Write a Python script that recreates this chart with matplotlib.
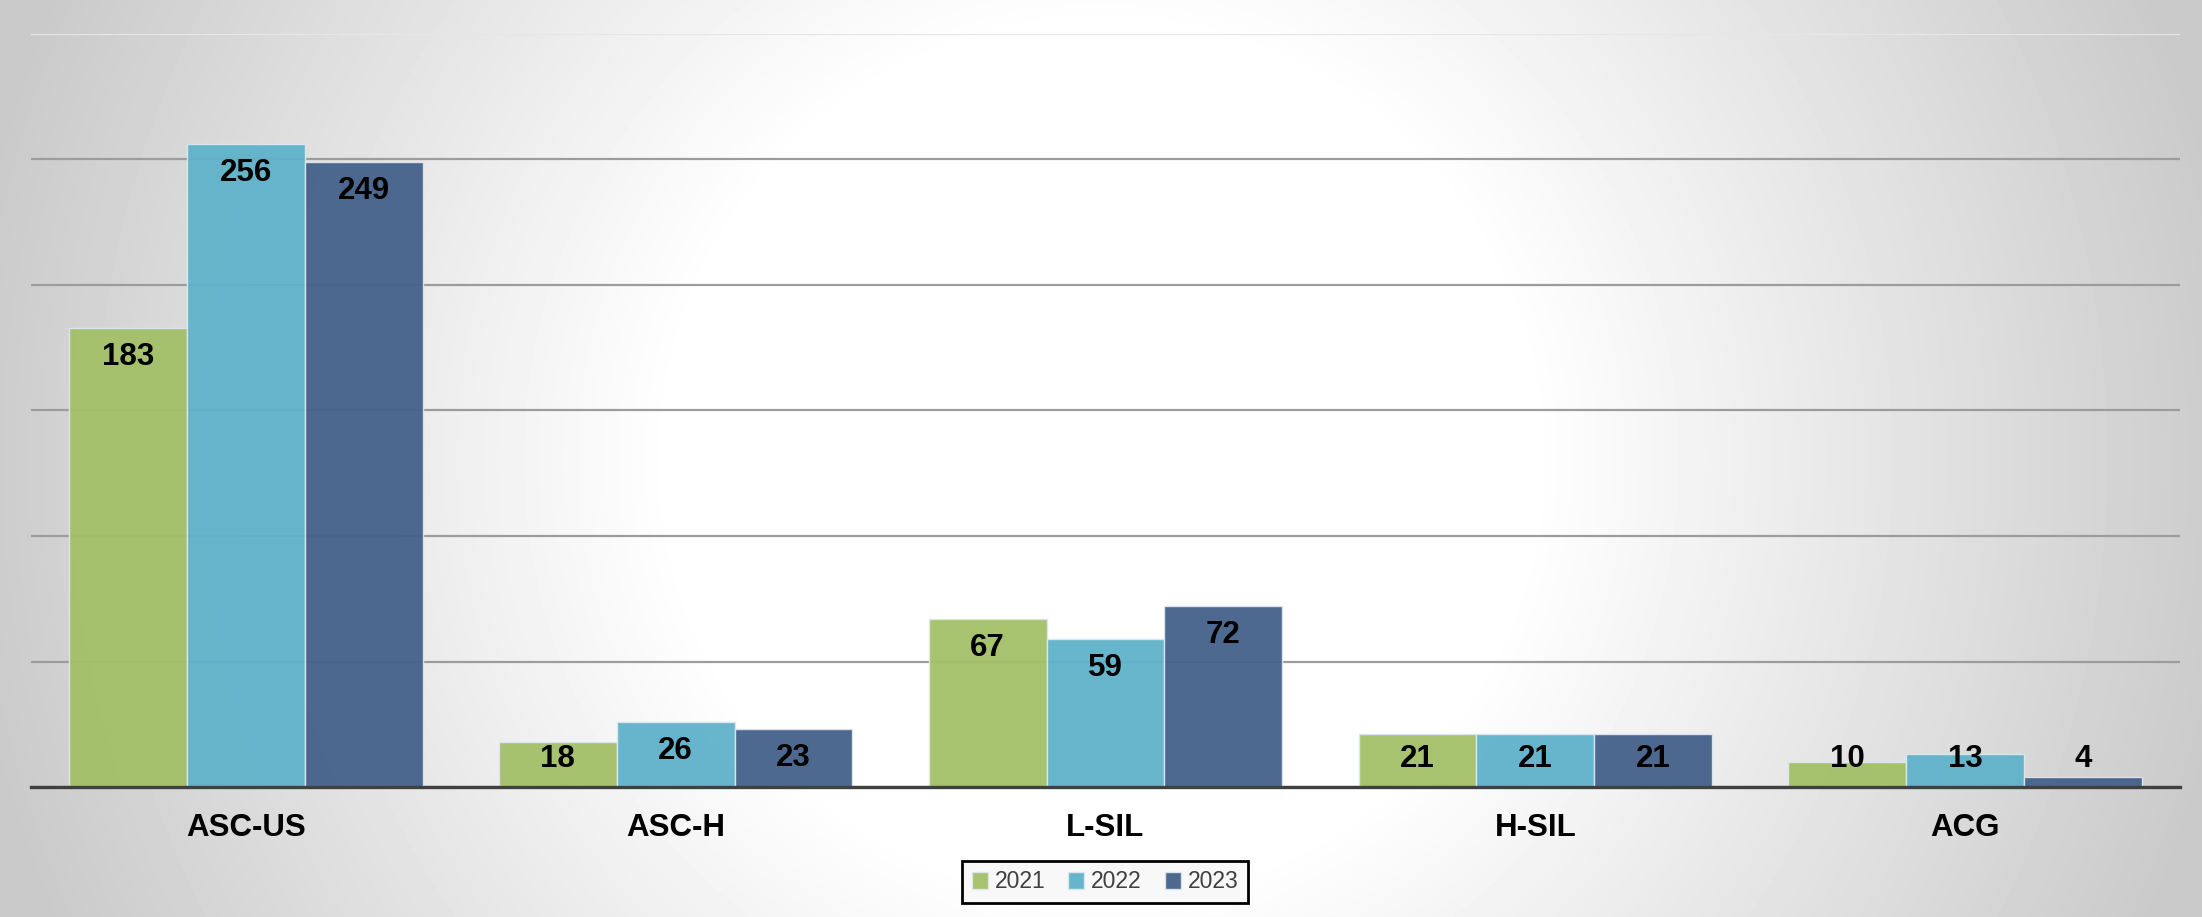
import numpy as np
import matplotlib
matplotlib.use("Agg")
import matplotlib.pyplot as plt

# data
categories = ["ASC-US", "ASC-H", "L-SIL", "H-SIL", "ACG"]
years = ["2021", "2022", "2023"]
vals_2021 = [183, 18, 67, 21, 10]
vals_2022 = [256, 26, 59, 21, 13]
vals_2023 = [249, 23, 72, 21, 4]
colors = ["#A3C068", "#5FB2CA", "#44618A"]

plt.rcParams["font.family"] = ["Liberation Sans", "DejaVu Sans"]

W, H = 2202, 917
fig = plt.figure(figsize=(W / 100, H / 100), dpi=100)

# radial grey -> white background
bg = fig.add_axes([0, 0, 1, 1], zorder=-10)
yy, xx = np.mgrid[0:H, 0:W]
d = np.sqrt((xx - W / 2) ** 2 + (yy - H / 2) ** 2)
r0, R = 430, 1150
v = 1 - 0.21 * np.clip((d - r0) / (R - r0), 0, 1)
bg.imshow(v, cmap="gray", vmin=0, vmax=1, aspect="auto", extent=[0, 1, 0, 1])
bg.axis("off")

ax = fig.add_axes([31 / W, 1 - 787 / H, (2180 - 31) / W, (787 - 34) / H])
ax.set_facecolor("none")

x = np.arange(len(categories))
width = 0.274
series = [vals_2021, vals_2022, vals_2023]
for i, (vals, col, yr) in enumerate(zip(series, colors, years)):
    pos = x + (i - 1) * width
    ax.bar(pos, vals, width, color=col, edgecolor="#dde6ee", linewidth=1.0,
           alpha=0.95, label=yr, zorder=3)
    for px, val in zip(pos, vals):
        yc = max(val - 11.5, 11.0)
        ax.text(px, yc, str(val), ha="center", va="center", fontsize=22.5,
                fontweight="bold", color="black", zorder=5)

ax.set_xlim(-0.5, len(categories) - 0.5)
ax.set_ylim(0, 300)
ax.set_yticks(np.arange(0, 301, 50))
ax.yaxis.grid(True, color="#9c9c9c", linewidth=1.6, zorder=1)
ax.set_axisbelow(True)
ax.tick_params(axis="y", left=False, labelleft=False)
ax.set_xticks(x)
ax.set_xticklabels(categories, fontsize=22.5, fontweight="bold")
ax.tick_params(axis="x", length=0, pad=19)
for s in ["top", "left", "right"]:
    ax.spines[s].set_visible(False)
ax.spines["bottom"].set_color("#404040")
ax.spines["bottom"].set_linewidth(2.4)
ax.spines["bottom"].set_zorder(6)
gl = ax.get_ygridlines()
gl[-1].set_color("#e6e6e6")

leg = fig.legend(loc="center", bbox_to_anchor=(1105 / W, 1 - 882 / H), ncol=3,
                 fontsize=16.5, frameon=True, fancybox=False, handlelength=0.7,
                 handleheight=0.7, handletextpad=0.3, columnspacing=1.0,
                 borderpad=0.42)
frame = leg.get_frame()
frame.set_edgecolor("black")
frame.set_linewidth(2.0)
frame.set_facecolor("#f8f8f8")
frame.set_alpha(1)
for t in leg.get_texts():
    t.set_color("#404040")

fig.savefig("out.png", dpi=100)
